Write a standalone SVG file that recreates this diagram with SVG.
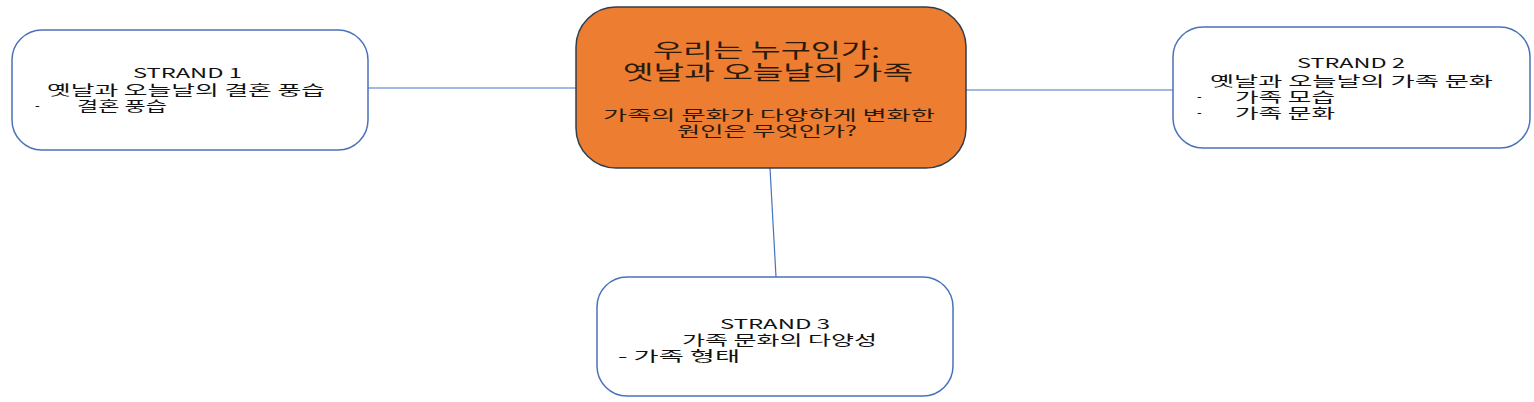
<svg xmlns="http://www.w3.org/2000/svg" width="1534" height="402" viewBox="0 0 1534 402">
<style>
.box{fill:#ffffff;stroke:#4a72b8;stroke-width:1.5}
.core{fill:#ed7d31;stroke:#2f3e4e;stroke-width:1.5}
.conn{stroke:#4472c4;stroke-width:1.2;fill:none}
text{font-family:"Noto Sans CJK KR","Noto Sans",sans-serif;fill:#111111}
.s{font-size:13.5px}
.c1{font-size:20px;fill:#2a1a0c}
.c2{font-size:14px;fill:#2a1a0c}
</style>
<rect width="1534" height="402" fill="#ffffff"/>
<g id="connectors">
<line class="conn" x1="368" y1="88" x2="576" y2="88"/>
<line class="conn" x1="966" y1="90" x2="1173" y2="90"/>
<line class="conn" x1="770" y1="168" x2="776" y2="277"/>
</g>
<g id="center">
<rect class="core" x="576" y="7" width="390" height="161" rx="40" ry="40"/>
<text class="c1" x="653" y="58" textLength="227" lengthAdjust="spacingAndGlyphs">우리는 누구인가:</text>
<text class="c1" x="623" y="80" textLength="290" lengthAdjust="spacingAndGlyphs">옛날과 오늘날의 가족</text>
<text class="c2" x="603" y="120" textLength="332" lengthAdjust="spacingAndGlyphs">가족의 문화가 다양하게 변화한</text>
<text class="c2" x="677" y="136" textLength="180" lengthAdjust="spacingAndGlyphs">원인은 무엇인가?</text>
</g>
<g id="strand1">
<rect class="box" x="12" y="30" width="356" height="120" rx="30" ry="30"/>
<text class="s" x="133" y="78" textLength="109" lengthAdjust="spacingAndGlyphs">STRAND 1</text>
<text class="s" x="47" y="95" textLength="278" lengthAdjust="spacingAndGlyphs">옛날과 오늘날의 결혼 풍습</text>
<text class="s" x="35" y="110">-</text>
<text class="s" x="77" y="111" textLength="90" lengthAdjust="spacingAndGlyphs">결혼 풍습</text>
</g>
<g id="strand2">
<rect class="box" x="1173" y="27" width="357" height="121" rx="30" ry="30"/>
<text class="s" x="1297" y="68" textLength="108" lengthAdjust="spacingAndGlyphs">STRAND 2</text>
<text class="s" x="1210" y="86" textLength="283" lengthAdjust="spacingAndGlyphs">옛날과 오늘날의 가족 문화</text>
<text class="s" x="1197" y="101">-</text>
<text class="s" x="1235" y="102" textLength="100" lengthAdjust="spacingAndGlyphs">가족 모습</text>
<text class="s" x="1197" y="117">-</text>
<text class="s" x="1235" y="118" textLength="100" lengthAdjust="spacingAndGlyphs">가족 문화</text>
</g>
<g id="strand3">
<rect class="box" x="597" y="277" width="356" height="119" rx="30" ry="30"/>
<text class="s" x="720" y="329" textLength="110" lengthAdjust="spacingAndGlyphs">STRAND 3</text>
<text class="s" x="682" y="345" textLength="195" lengthAdjust="spacingAndGlyphs">가족 문화의 다양성</text>
<text class="s" x="618" y="361" textLength="122" lengthAdjust="spacingAndGlyphs">- 가족 형태</text>
</g>
</svg>
